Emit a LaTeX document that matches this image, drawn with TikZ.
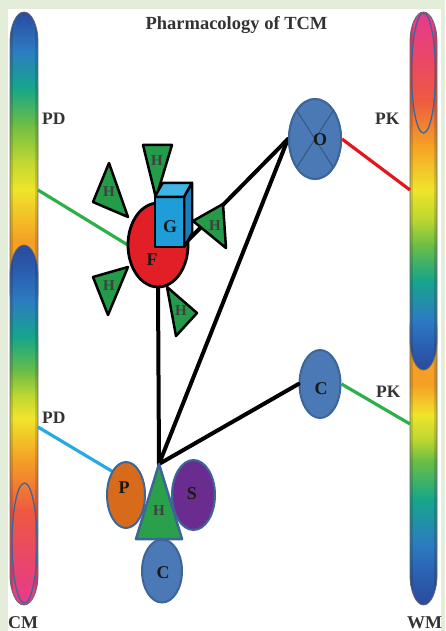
\documentclass[tikz,border=0pt]{standalone}
\usepackage{fontspec}
\setmainfont{Liberation Serif}
\usetikzlibrary{shapes.geometric}

% bar gradient colours
\definecolor{cDB}{HTML}{2B4A9E}
\definecolor{cMB}{HTML}{2B60B0}
\definecolor{cBL}{HTML}{2C7BC2}
\definecolor{cTL}{HTML}{16A68A}
\definecolor{cGR}{HTML}{6DBE45}
\definecolor{cYG}{HTML}{BCD631}
\definecolor{cYE}{HTML}{EFE52B}
\definecolor{cOR}{HTML}{F5A025}
\definecolor{cRO}{HTML}{EE5A40}
\definecolor{cRP}{HTML}{E9466A}
\definecolor{cPK}{HTML}{E63B8D}
% shape colours
\definecolor{bgpale}{HTML}{E4EDDA}
\definecolor{nodeblue}{HTML}{4A79B6}
\definecolor{rimblue}{HTML}{3D6698}
\definecolor{fred}{HTML}{E21F26}
\definecolor{hgreen}{HTML}{239B48}
\definecolor{hgreenb}{HTML}{2AA04A}
\definecolor{porange}{HTML}{D86A1C}
\definecolor{spurple}{HTML}{6A2D8F}
\definecolor{gfront}{HTML}{1E9DD8}
\definecolor{gtop}{HTML}{41B4E6}
\definecolor{gside}{HTML}{1B7DB9}
\definecolor{lgreen}{HTML}{2DB04A}
\definecolor{lcyan}{HTML}{27AAE1}
\definecolor{lred}{HTML}{E8141B}
\definecolor{txt}{HTML}{333333}

% bullet-shaped bar: x0, x1, top, bottom
\newcommand\barshape[4]{(#1,#4-30) -- (#1,#3+30)
  arc[start angle=180,end angle=360,x radius={(#2-#1)/2},y radius=30]
  -- (#2,#4-30)
  arc[start angle=0,end angle=180,x radius={(#2-#1)/2},y radius=30] -- cycle}
% gradient bar: x0, x1, top, bottom, list of ya/yb/ca/cb
\newcommand\gradbar[5]{%
  \begin{scope}
    \clip \barshape{#1}{#2}{#3}{#4};
    \foreach \ya/\yb/\ca/\cb in {#5}
      \shade[top color=\ca, bottom color=\cb] (#1-1,\ya-0.4) rectangle (#2+1,\yb+0.4);
    \fill[black,opacity=0.13] (#1,#3) rectangle (#1+3,#4);
    \fill[black,opacity=0.13] (#2-3,#3) rectangle (#2,#4);
  \end{scope}
  \draw[black!60,line width=0.8pt] \barshape{#1}{#2}{#3}{#4};}

\begin{document}
\begin{tikzpicture}[x=1pt,y=-1pt,
  ttl/.style={font=\bfseries\fontsize{18.5}{18.5}\selectfont,text=txt,inner sep=0},
  side/.style={font=\bfseries\fontsize{17.5}{17.5}\selectfont,text=txt,inner sep=0,anchor=base west},
  foot/.style={font=\bfseries\fontsize{18}{18}\selectfont,text=txt,inner sep=0,anchor=base west},
  big/.style={font=\bfseries\fontsize{18}{18}\selectfont,text=black!90,inner sep=0},
  hl/.style={font=\bfseries\fontsize{15}{15}\selectfont,text=black!75,inner sep=0},
  oval/.style={ellipse,inner sep=0,draw=rimblue,line width=2pt},
  htri/.style={fill=hgreen,draw=black,line width=2.5pt,line join=round},
  gface/.style={draw=black,line width=2.4pt,line join=round},
  blk/.style={black,line width=4pt,line cap=round},
  link/.style={line width=3.2pt},
  inring/.style={draw=rimblue,line width=1.3pt}]
\useasboundingbox (0,0) rectangle (445,631);

% page background and white panel
\fill[bgpale] (0,0) rectangle (445,631);
\fill[white] (8,9) rectangle (441,631);

% left column bars
\gradbar{10}{38}{12}{320}{12/50/cDB/cBL,50/88/cBL/cTL,88/125/cTL/cGR,125/160/cGR/cYG,160/190/cYG/cYE,190/240/cYE/cOR,240/320/cOR/cOR}
\gradbar{10}{38}{245}{605}{245/275/cDB/cMB,275/300/cMB/cBL,300/338/cBL/cTL,338/372/cTL/cGR,372/395/cGR/cYG,395/418/cYG/cYE,418/460/cYE/cOR,460/510/cOR/cRO,510/560/cRO/cRP,560/605/cRP/cPK}
\draw[inring] (24.5,543) ellipse[x radius=12.5,y radius=60];

% right column bars
\gradbar{410}{437}{300}{605}{300/385/cOR/cOR,385/415/cOR/cYE,415/440/cYE/cYG,440/460/cYG/cGR,460/500/cGR/cTL,500/545/cTL/cBL,545/575/cBL/cMB,575/605/cMB/cDB}
\gradbar{410}{437}{12}{370}{12/55/cPK/cRP,55/100/cRP/cRO,100/145/cRO/cOR,145/190/cOR/cYE,190/220/cYE/cYG,220/245/cYG/cGR,245/280/cGR/cTL,280/320/cTL/cBL,320/345/cBL/cMB,345/370/cMB/cDB}
\draw[inring] (423.5,73) ellipse[x radius=12,y radius=60];

% attachment points on the bars
\coordinate (pdA) at (38,190);
\coordinate (pdB) at (38,427);
\coordinate (pkA) at (410,190);
\coordinate (pkB) at (410,424);
\coordinate (hap) at (159,464);

% nodes (drawn later on top of the links)
\path (315,139) node[oval,fill=nodeblue,minimum width=52pt,minimum height=80pt] (O) {};
\path (320,384) node[oval,fill=nodeblue,minimum width=41pt,minimum height=68pt] (Cr) {};
\path (158,245) node[ellipse,inner sep=0,minimum width=60pt,minimum height=84pt] (F) {};
\path (126,495) node[ellipse,inner sep=0,minimum width=38pt,minimum height=66pt] (P) {};
\path (169.5,222) node[rectangle,inner sep=0,minimum width=29pt,minimum height=50pt] (G) {};

% coloured links to the bars
\draw[link,lgreen] (pdA) -- (F.west);
\draw[link,lcyan] (pdB) -- (P.120);
\draw[link,lred] (O.east) -- (pkA);
\draw[link,lgreen] (Cr.east) -- (pkB);

% black links
\draw[blk] (hap) -- (O.west);
\draw[blk] (hap) -- (Cr.west);
\draw[blk] (hap) -- (F.south);
\draw[blk] (G.south east) ++(4,-7) -- (O.west);

% H triangles round F
\draw[htri] (143,145) -- (172,145) -- (156,198) -- cycle;
\draw[htri] (109,163) -- (93,202) -- (128,217) -- cycle;
\draw[htri] (223,204) -- (226,248) -- (193,221) -- cycle;
\draw[htri] (93,277) -- (128,267) -- (108,315) -- cycle;
\draw[htri] (167,287) -- (197,313) -- (176,336) -- cycle;

% F and the G box
\draw[fill=fred,draw=black,line width=2.8pt] (F.center) ellipse[x radius=30,y radius=42];
\fill[gfront] (G.north west) rectangle (G.south east);
\draw[gface,fill=gtop] (G.north west) -- ++(8,-14) -- ++(29,0) -- (G.north east) -- cycle;
\draw[gface,fill=gside] (G.north east) -- ++(8,-14) -- ++(0,50) -- (G.south east) -- cycle;
\draw[gface] (G.north west) rectangle (G.south east);

% O with its cross
\draw[oval,fill=nodeblue] (O.center) ellipse[x radius=26,y radius=40];
\draw[rimblue!85!black,line width=1pt] (O.center) ++(-18,-28) -- ++(36,56);
\draw[rimblue!85!black,line width=1pt] (O.center) ++(18,-28) -- ++(-36,56);

% bottom cluster
\draw[fill=porange,draw=rimblue,line width=2pt] (P.center) ellipse[x radius=19,y radius=33];
\path (193.5,495) node[oval,fill=spurple,minimum width=43pt,minimum height=70pt] (S) {};
\path (162,571) node[oval,fill=nodeblue,minimum width=40pt,minimum height=63pt] (Cb) {};
\draw[fill=hgreenb,draw=rimblue,line width=2.5pt,line join=round] (hap) -- (136,539) -- (182,539) -- cycle;

% letters
\node[big] (oT) at (320,140) {O};
\node[big] (cT) at (321,389) {C};
\node[big] (fT) at (152,260) {F};
\node[big] (gT) at (170,227) {G};
\node[big] (pT) at (124,488) {P};
\node[big] (sT) at (192,494) {S};
\node[big] (cbT) at (163,573) {C};
\node[hl] (hbT) at (159,511) {H};
\node[hl] (h1) at (157,161) {H};
\node[hl] (h2) at (109,192) {H};
\node[hl] (h3) at (215,226) {H};
\node[hl] (h4) at (109,286) {H};
\node[hl] (h5) at (181,311) {H};

% titles and side labels
\node[ttl,anchor=base] (title) at (236.5,30) {Pharmacology of TCM};
\node[side] (pd1) at (42,125) {PD};
\node[side] (pk1) at (375,125) {PK};
\node[side] (pd2) at (42,423) {PD};
\node[side] (pk2) at (376,397) {PK};
\node[foot] (cm) at (8,628) {CM};
\node[foot] (wm) at (407,628) {WM};
\end{tikzpicture}
\end{document}
